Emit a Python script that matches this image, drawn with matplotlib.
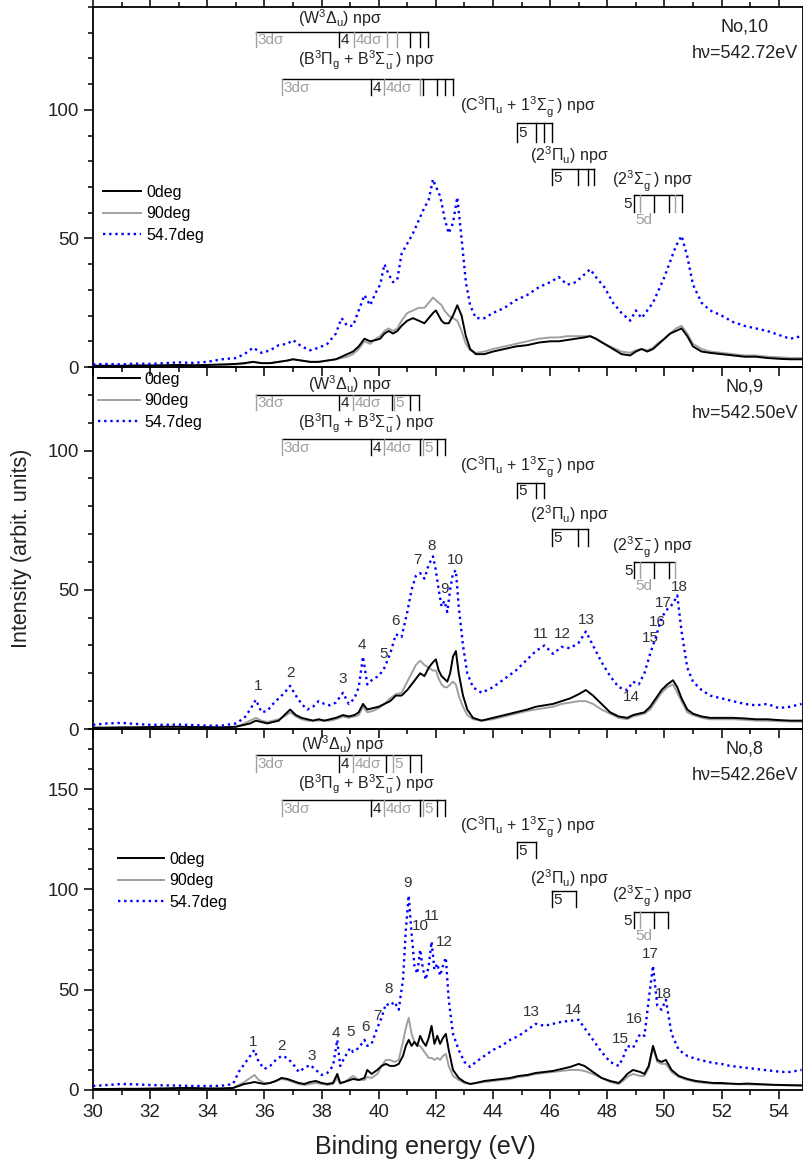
import matplotlib
matplotlib.use('Agg')
import matplotlib.pyplot as plt
import matplotlib.transforms as mtransforms
from matplotlib.ticker import MultipleLocator
from matplotlib.lines import Line2D

plt.rcParams['font.family'] = ['Liberation Sans', 'DejaVu Sans']
plt.rcParams['mathtext.fontset'] = 'custom'
plt.rcParams['mathtext.rm'] = 'Liberation Sans'
plt.rcParams['mathtext.it'] = 'Liberation Sans:italic'
plt.rcParams['mathtext.bf'] = 'Liberation Sans:bold'

# ---------------- data ----------------
series_labels = ['0deg', '90deg', '54.7deg']
panel_names = ['No,10', 'No,9', 'No,8']
photon_energies = ['h\u03bd=542.72eV', 'h\u03bd=542.50eV', 'h\u03bd=542.26eV']

# Panel No,10
E10 = [30.0, 30.5, 31.0, 31.5, 32.0, 32.5, 33.0, 33.5, 34.0, 34.5,
       35.0, 35.3, 35.6, 35.9, 36.2, 36.5, 36.8, 37.0, 37.3, 37.6,
       37.9, 38.2, 38.5, 38.7, 38.9, 39.1, 39.3, 39.5, 39.7, 39.9,
       40.05, 40.2, 40.35, 40.5, 40.65, 40.8, 41.0, 41.2, 41.4, 41.6,
       41.75, 41.9, 42.0, 42.1, 42.2, 42.3, 42.45, 42.6, 42.75, 42.9,
       43.05, 43.2, 43.4, 43.7, 44.0, 44.4, 44.8, 45.2, 45.6, 46.0,
       46.3, 46.6, 46.9, 47.2, 47.4, 47.6, 47.9, 48.2, 48.5, 48.8,
       49.0, 49.2, 49.4, 49.6, 49.8, 50.0, 50.2, 50.4, 50.6, 50.8,
       51.0, 51.3, 51.6, 52.0, 52.4, 52.8, 53.2, 53.6, 54.0, 54.4,
       54.8]
I10_0 = [0.5, 0.5, 0.5, 0.6, 0.6, 0.7, 0.8, 0.7, 0.8, 1.0,
         1.2, 1.5, 2.0, 1.5, 1.5, 2.0, 2.5, 3.0, 2.5, 2.0,
         2.0, 2.5, 3.0, 4.0, 5.0, 6.0, 8.0, 11.0, 10.0, 10.5,
         11.0, 13.0, 14.0, 13.0, 14.0, 16.0, 18.0, 19.0, 18.0, 17.0,
         19.0, 21.0, 22.0, 20.0, 18.0, 17.0, 17.0, 20.0, 24.0, 20.0,
         12.0, 7.0, 5.0, 5.0, 6.0, 7.0, 8.0, 8.5, 9.5, 10.0,
         10.0, 10.5, 11.0, 11.5, 12.0, 11.0, 9.0, 7.0, 5.0, 4.5,
         6.0, 7.0, 6.0, 7.0, 9.0, 11.0, 13.0, 14.0, 15.0, 12.0,
         8.0, 6.0, 5.5, 5.0, 4.5, 4.0, 4.0, 3.5, 3.2, 3.0,
         3.0]
I10_90 = [0.3, 0.3, 0.4, 0.4, 0.5, 0.5, 0.6, 0.6, 0.6, 0.7,
          1.0, 1.3, 2.0, 1.5, 1.5, 2.0, 2.5, 3.0, 2.5, 2.0,
          2.0, 2.5, 3.0, 3.5, 4.0, 5.0, 7.0, 10.0, 9.0, 11.0,
          12.0, 14.0, 15.0, 14.0, 15.0, 18.0, 21.0, 22.0, 23.0, 23.0,
          25.0, 27.0, 26.0, 25.0, 24.0, 22.0, 20.0, 19.0, 18.0, 14.0,
          9.0, 6.5, 5.5, 6.0, 7.0, 8.0, 9.0, 10.0, 11.0, 11.5,
          11.5, 12.0, 12.0, 12.0, 12.0, 11.0, 9.0, 7.5, 6.0, 5.5,
          6.5, 7.0, 6.5, 7.5, 9.5, 11.0, 13.0, 15.0, 16.0, 13.0,
          9.0, 7.0, 6.0, 5.5, 5.0, 4.5, 4.5, 4.0, 3.8, 3.5,
          3.5]
I10_547 = [1.0, 1.2, 1.0, 1.3, 1.2, 1.5, 1.8, 1.6, 2.0, 3.0,
           3.5, 5.0, 7.5, 5.5, 6.5, 8.5, 9.0, 10.5, 8.0, 6.5,
           7.5, 9.0, 13.0, 19.0, 16.0, 16.0, 22.0, 28.0, 24.0, 29.0,
           32.0, 40.0, 36.0, 33.0, 34.0, 44.0, 48.0, 52.0, 57.0, 62.0,
           65.0, 73.0, 70.0, 68.0, 64.0, 58.0, 52.0, 56.0, 66.0, 50.0,
           33.0, 24.0, 19.0, 19.0, 21.0, 23.0, 26.0, 28.0, 31.0, 33.0,
           35.0, 32.0, 33.0, 36.0, 38.0, 35.0, 31.0, 25.0, 21.0, 18.0,
           22.0, 19.0, 22.0, 25.0, 30.0, 35.0, 41.0, 47.0, 51.0, 43.0,
           32.0, 25.0, 22.0, 20.0, 17.5, 16.0, 15.0, 14.0, 12.5, 11.0,
           12.0]

# Panel No,9
E9 = [30.0, 30.5, 31.0, 31.5, 32.0, 32.5, 33.0, 33.5, 34.0, 34.5,
      35.0, 35.3, 35.5, 35.7, 35.9, 36.1, 36.3, 36.5, 36.7, 36.9,
      37.1, 37.3, 37.5, 37.7, 37.9, 38.1, 38.3, 38.5, 38.75, 38.95,
      39.15, 39.3, 39.45, 39.6, 39.8, 40.0, 40.2, 40.4, 40.6, 40.8,
      41.0, 41.15, 41.3, 41.45, 41.6, 41.75, 41.9, 42.0, 42.1, 42.2,
      42.3, 42.4, 42.5, 42.6, 42.7, 42.8, 42.95, 43.1, 43.3, 43.6,
      44.0, 44.4, 44.8, 45.2, 45.5, 45.8, 46.1, 46.4, 46.7, 47.0,
      47.25, 47.5, 47.8, 48.1, 48.4, 48.7, 48.9, 49.1, 49.3, 49.5,
      49.7, 49.9, 50.1, 50.3, 50.45, 50.6, 50.8, 51.0, 51.3, 51.6,
      52.0, 52.4, 52.8, 53.2, 53.6, 54.0, 54.4, 54.8]
I9_0 = [0.5, 0.5, 0.6, 0.6, 0.7, 0.8, 0.8, 0.7, 0.7, 0.6,
        0.8, 1.5, 2.0, 3.0, 2.5, 2.0, 2.5, 3.0, 5.0, 7.0,
        5.0, 4.0, 3.5, 3.0, 3.5, 3.0, 3.5, 4.0, 5.0, 4.5,
        5.0, 6.0, 9.0, 7.0, 7.5, 8.0, 9.0, 10.0, 12.0, 12.0,
        14.0, 16.0, 18.0, 20.0, 19.0, 22.0, 24.0, 25.0, 21.0, 19.0,
        18.0, 17.0, 20.0, 26.0, 28.0, 20.0, 12.0, 7.0, 4.0, 3.0,
        4.0, 5.0, 6.0, 7.0, 8.0, 8.5, 9.0, 10.0, 11.0, 12.5,
        14.0, 12.0, 9.0, 6.0, 4.5, 4.0, 5.0, 5.5, 6.0, 8.0,
        11.0, 14.0, 16.0, 17.5, 15.0, 11.0, 7.0, 5.5, 4.5, 4.0,
        4.0, 4.0, 3.8, 3.5, 3.5, 3.2, 3.0, 3.0]
I9_90 = [0.3, 0.3, 0.4, 0.5, 0.5, 0.6, 0.6, 0.6, 0.5, 0.5,
         0.8, 2.0, 3.0, 4.0, 3.0, 2.5, 3.0, 3.5, 4.5, 6.0,
         4.5, 3.5, 3.0, 3.0, 3.0, 3.0, 3.0, 3.5, 4.5, 4.0,
         4.5, 5.0, 8.0, 6.0, 6.5, 7.5, 9.0, 11.0, 12.5, 13.0,
         17.0, 20.0, 23.0, 24.5, 23.0, 22.0, 21.0, 21.0, 18.0, 16.0,
         15.0, 15.0, 16.0, 17.0, 16.0, 12.0, 8.0, 5.0, 3.5, 3.0,
         3.5, 4.5, 5.5, 6.5, 7.0, 7.5, 8.0, 9.0, 9.5, 10.0,
         10.0, 9.0, 7.0, 5.5, 4.0, 3.5, 4.5, 5.0, 5.5, 7.0,
         10.0, 13.0, 15.0, 16.0, 13.0, 10.0, 6.0, 5.0, 4.0, 3.5,
         3.5, 3.5, 3.3, 3.0, 3.0, 2.8, 2.7, 2.6]
I9_547 = [1.5, 2.0, 2.2, 1.8, 1.5, 1.5, 1.6, 1.4, 1.2, 1.2,
          2.0, 4.0, 7.0, 10.5, 6.0, 6.5, 9.0, 11.0, 13.0, 15.5,
          12.0, 9.0, 7.0, 8.0, 10.0, 9.0, 8.5, 9.5, 13.0, 9.0,
          11.0, 15.0, 26.0, 16.0, 18.0, 19.0, 22.0, 27.0, 34.0, 33.0,
          42.0, 50.0, 55.0, 56.0, 54.0, 59.0, 62.0, 57.0, 50.0, 44.0,
          46.0, 42.0, 50.0, 56.0, 57.0, 44.0, 30.0, 20.0, 15.0, 13.0,
          15.0, 18.0, 21.0, 25.0, 28.0, 30.0, 27.0, 29.5, 29.0, 31.0,
          35.0, 30.0, 24.0, 19.0, 15.0, 14.0, 17.0, 16.0, 20.0, 27.0,
          33.0, 40.0, 43.0, 45.0, 48.0, 35.0, 22.0, 17.0, 14.0, 12.0,
          11.0, 10.0, 9.0, 8.5, 9.0, 7.5, 8.0, 9.0]

# Panel No,8
E8 = [30.0, 30.5, 31.0, 31.5, 32.0, 32.5, 33.0, 33.5, 34.0, 34.5,
      34.9, 35.1, 35.3, 35.5, 35.65, 35.8, 36.0, 36.2, 36.4, 36.6,
      36.8, 37.0, 37.2, 37.4, 37.6, 37.8, 38.0, 38.2, 38.4, 38.55,
      38.65, 38.8, 39.0, 39.1, 39.3, 39.5, 39.6, 39.75, 39.95, 40.1,
      40.25, 40.4, 40.55, 40.7, 40.85, 40.95, 41.05, 41.15, 41.25, 41.35,
      41.45, 41.55, 41.65, 41.75, 41.85, 41.95, 42.05, 42.15, 42.25, 42.35,
      42.45, 42.6, 42.8, 43.0, 43.2, 43.4, 43.7, 44.0, 44.3, 44.6,
      44.9, 45.2, 45.5, 45.8, 46.1, 46.4, 46.7, 47.0, 47.2, 47.5,
      47.8, 48.1, 48.4, 48.55, 48.7, 48.9, 49.15, 49.3, 49.45, 49.6,
      49.75, 49.9, 50.05, 50.25, 50.5, 50.8, 51.1, 51.4, 51.7, 52.0,
      52.3, 52.6, 52.9, 53.2, 53.5, 53.8, 54.1, 54.4, 54.8]
I8_0 = [0.5, 0.5, 0.6, 0.6, 0.7, 0.8, 1.0, 1.0, 0.8, 0.8,
        1.0, 2.0, 3.0, 3.5, 4.0, 3.5, 3.0, 3.5, 4.5, 6.0,
        5.5, 4.5, 3.5, 3.0, 4.0, 4.5, 3.5, 3.0, 3.5, 8.0,
        3.5, 4.0, 5.0, 5.5, 5.0, 6.0, 10.0, 8.0, 10.0, 12.0,
        13.0, 12.0, 12.0, 13.0, 17.0, 22.0, 25.0, 22.0, 24.0, 22.0,
        27.0, 24.0, 22.0, 26.0, 32.0, 23.0, 27.0, 23.0, 26.0, 28.0,
        20.0, 10.0, 6.0, 4.0, 3.0, 3.5, 4.5, 5.0, 5.5, 6.0,
        7.0, 7.5, 8.5, 9.0, 9.5, 10.5, 11.5, 13.0, 12.0, 9.0,
        6.0, 4.5, 3.5, 5.5, 8.0, 10.0, 9.0, 8.0, 12.0, 22.0,
        15.0, 14.0, 15.0, 10.0, 7.0, 5.5, 4.5, 4.0, 3.5, 3.5,
        3.2, 3.0, 3.2, 3.0, 2.8, 2.6, 2.5, 2.4, 2.3]
I8_90 = [0.3, 0.3, 0.4, 0.5, 0.6, 0.6, 0.7, 0.7, 0.6, 0.6,
         1.0, 2.5, 4.0, 6.0, 7.5, 5.0, 3.5, 3.5, 4.5, 5.5,
         5.0, 4.0, 3.0, 2.5, 3.0, 3.5, 3.0, 2.5, 3.0, 6.0,
         3.0, 4.0, 6.0, 7.0, 5.0, 5.0, 6.5, 6.0, 8.0, 12.0,
         15.0, 15.0, 14.0, 15.0, 24.0, 31.0, 36.0, 28.0, 24.0, 22.0,
         22.0, 20.0, 18.0, 16.0, 16.0, 15.0, 16.0, 15.0, 17.0, 18.0,
         12.0, 7.0, 5.0, 3.5, 3.0, 3.5, 4.0, 4.5, 5.0, 5.5,
         6.5, 7.0, 8.0, 8.5, 9.0, 9.5, 10.0, 10.0, 9.5, 8.0,
         6.0, 4.0, 3.0, 4.5, 6.5, 8.0, 7.0, 7.0, 11.0, 21.0,
         14.0, 13.0, 13.0, 9.0, 6.5, 5.0, 4.0, 3.5, 3.2, 3.0,
         3.0, 2.8, 2.8, 2.7, 2.6, 2.5, 2.4, 2.3, 2.2]
I8_547 = [2.0, 2.5, 3.0, 2.8, 2.5, 2.3, 2.2, 2.0, 2.0, 2.1,
          3.0, 9.0, 13.0, 17.0, 20.0, 14.0, 10.5, 12.0, 15.0, 17.0,
          16.0, 13.0, 9.0, 11.0, 12.5, 10.0, 7.5, 8.5, 12.0, 25.0,
          12.0, 16.0, 21.0, 19.0, 21.0, 25.0, 22.0, 23.0, 31.0, 36.0,
          43.0, 42.0, 44.0, 40.0, 55.0, 80.0, 97.0, 78.0, 62.0, 58.0,
          70.0, 60.0, 55.0, 62.0, 74.0, 60.0, 63.0, 57.0, 62.0, 66.0,
          45.0, 28.0, 20.0, 14.0, 11.5, 14.0, 17.0, 20.0, 22.0, 25.0,
          27.0, 30.0, 33.0, 32.0, 33.0, 34.0, 34.5, 35.0, 31.0, 25.0,
          19.0, 14.0, 12.0, 16.0, 22.0, 21.0, 28.0, 27.0, 45.0, 62.0,
          42.0, 40.0, 45.0, 28.0, 20.0, 17.0, 15.5, 14.5, 13.5, 13.0,
          12.0, 11.5, 11.0, 10.5, 10.0, 9.5, 9.0, 9.0, 10.0]

# peak-number labels (x in eV, y in intensity)
peak_ids9 = ['1', '2', '3', '4', '5', '6', '7', '8', '9', '10', '11', '12', '13', '14', '15', '16', '17', '18']
peak_x9 = [35.77, 36.92, 38.74, 39.41, 40.17, 40.59, 41.36, 41.85, 42.31, 42.69,
           45.66, 46.43, 47.27, 48.85, 49.51, 49.76, 49.97, 50.52]
peak_y9 = [15.4, 20.1, 18.0, 30.2, 26.9, 38.8, 60.7, 65.7, 50.3, 60.7,
           34.1, 34.1, 39.1, 11.5, 32.7, 38.4, 45.2, 51.0]
peak_ids8 = ['1', '2', '3', '4', '5', '6', '7', '8', '9', '10', '11', '12', '13', '14', '15', '16', '17', '18']
peak_x8 = [35.6, 36.6, 37.65, 38.5, 39.0, 39.55, 39.95, 40.35, 41.0, 41.45,
           41.85, 42.3, 45.35, 46.8, 48.45, 48.95, 49.5, 49.95]
peak_y8 = [24.0, 22.0, 17.0, 28.5, 29.0, 31.5, 37.0, 50.5, 103.0, 82.0,
           87.0, 74.0, 39.0, 40.0, 25.5, 35.5, 68.0, 48.0]

# ---------------- layout ----------------
W, H = 804, 1164
fig = plt.figure(figsize=(W / 100, H / 100), dpi=100)
L, R = 93, 803
panels_px = [(7, 367), (367, 729), (729, 1090)]
ylims = [140, 130, 180]

BLACK = '#000000'
GRAY = '#a0a0a0'
BLUE = '#0000ff'
TXT = '#222222'

data = [(E10, I10_0, I10_90, I10_547), (E9, I9_0, I9_90, I9_547), (E8, I8_0, I8_90, I8_547)]

axes = []
for i, (top, bot) in enumerate(panels_px):
    ax = fig.add_axes([L / W, 1 - bot / H, (R - L) / W, (bot - top) / H])
    ax.patch.set_visible(False)
    E, i0, i90, i547 = data[i]
    ax.plot(E, i90, color=GRAY, lw=1.4, zorder=2)
    ax.plot(E, i0, color=BLACK, lw=1.4, zorder=3)
    ax.plot(E, i547, color=BLUE, lw=1.7, ls=(0, (1.0, 1.6)), zorder=4)
    ax.set_xlim(30, 54.85)
    ax.set_ylim(0, ylims[i])
    ax.xaxis.set_major_locator(MultipleLocator(2))
    ax.xaxis.set_minor_locator(MultipleLocator(1))
    ax.yaxis.set_major_locator(MultipleLocator(50))
    ax.yaxis.set_minor_locator(MultipleLocator(10))
    ax.tick_params(which='major', direction='out', length=6.5, width=1.1,
                   labelsize=13.5, labelcolor=TXT)
    ax.tick_params(which='minor', direction='out', length=3.5, width=1.1)
    if i < 2:
        ax.tick_params(axis='x', which='both', labelbottom=False)
    if i == 0:
        ax.tick_params(axis='x', which='both', top=True)
    for sp in ax.spines.values():
        sp.set_linewidth(1.3)
    axes.append(ax)


def fy(i, py):
    top, bot = panels_px[i]
    return (bot - py) / (bot - top)


def fx(px):
    return (px - L) / (R - L)


# legends
leg_pos = [(103, 185), (98, 372), (118, 852)]
leg_hl = [2.4, 2.6, 2.9]
for i, ax in enumerate(axes):
    handles = [Line2D([], [], color=BLACK, lw=1.4),
               Line2D([], [], color=GRAY, lw=1.4),
               Line2D([], [], color=BLUE, lw=1.7, ls=(0, (1.0, 1.6)))]
    px, py = leg_pos[i]
    ax.legend(handles, series_labels, loc='upper left',
              bbox_to_anchor=(fx(px), fy(i, py)), frameon=False,
              fontsize=11.5, handlelength=leg_hl[i], handletextpad=0.3,
              labelspacing=0.4, borderpad=0, borderaxespad=0)
    ax.text(fx(745), fy(i, panels_px[i][0] + 20), panel_names[i], transform=ax.transAxes,
            ha='center', va='center', fontsize=13, color=TXT)
    ax.text(fx(745), fy(i, panels_px[i][0] + 46), photon_energies[i], transform=ax.transAxes,
            ha='center', va='center', fontsize=13, color=TXT)

# peak labels
for ids, xs, ys, ax in [(peak_ids9, peak_x9, peak_y9, axes[1]), (peak_ids8, peak_x8, peak_y8, axes[2])]:
    for t, x, y in zip(ids, xs, ys):
        ax.text(x, y, t, ha='center', va='center', fontsize=11, color='#333333')

# level ladders
SIG = '\u03c3'
T_W = r'(W$\mathrm{^3\Delta_u}$) np' + SIG
T_B = r'(B$\mathrm{^3\Pi_g}$ + B$\mathrm{^3\Sigma_u^-}$) np' + SIG
T_C = r'(C$\mathrm{^3\Pi_u}$ + 1$\mathrm{^3\Sigma_g^-}$) np' + SIG
T_P = r'(2$\mathrm{^3\Pi_u}$) np' + SIG
T_S = r'(2$\mathrm{^3\Sigma_g^-}$) np' + SIG

S3 = '3d' + SIG
S4 = '4d' + SIG

ladders = [
    # panel, title, title_x(eV), title_py, line_py, bottom_py, ticks, colours, labels
    (0, T_W, 38.64, 18, 32, 47, [35.70, 38.60, 39.13, 40.28, 40.63, 41.08, 41.43, 41.71], 'gkgggkkk',
     [(0, S3, 'g', 'r'), (1, '4', 'k', 'r'), (2, S4, 'g', 'r')]),
    (0, T_B, 39.58, 60, 79, 95, [36.61, 39.72, 40.17, 41.43, 41.54, 42.03, 42.31, 42.59], 'gkggkkkk',
     [(0, S3, 'g', 'r'), (1, '4', 'k', 'r'), (2, S4, 'g', 'r')]),
    (0, T_C, 45.21, 107, 123, 142, [44.83, 45.52, 45.80, 46.08], 'kkkk', [(0, '5', 'k', 'r')]),
    (0, T_P, 46.68, 155, 169, 185, [46.05, 46.96, 47.31, 47.52], 'kkkk', [(0, '5', 'k', 'r')]),
    (0, T_S, 49.58, 181, 195, 212, [48.92, 49.13, 49.65, 50.17, 50.38, 50.63], 'kgkkgk',
     [(0, '5', 'k', 'l'), (1, '5d', 'g', 'b')]),

    (1, T_W, 38.99, 384, 395, 410, [35.70, 38.60, 39.09, 40.45, 40.52, 41.08, 41.40], 'gkgkgkk',
     [(0, S3, 'g', 'r'), (1, '4', 'k', 'r'), (2, S4, 'g', 'r'), (4, '5', 'g', 'r')]),
    (1, T_B, 39.58, 423, 439, 455, [36.61, 39.72, 40.17, 41.43, 41.54, 42.03, 42.31], 'gkgkgkk',
     [(0, S3, 'g', 'r'), (1, '4', 'k', 'r'), (2, S4, 'g', 'r'), (4, '5', 'g', 'r')]),
    (1, T_C, 45.21, 467, 483, 498, [44.83, 45.52, 45.80], 'kkk', [(0, '5', 'k', 'r')]),
    (1, T_P, 46.68, 514, 529, 546, [46.05, 46.96, 47.31], 'kkk', [(0, '5', 'k', 'r')]),
    (1, T_S, 49.58, 547, 562, 578, [48.95, 49.13, 49.65, 50.17, 50.38], 'kgkkg',
     [(0, '5', 'k', 'l'), (1, '5d', 'g', 'b')]),

    (2, T_W, 38.74, 744, 755, 772, [35.70, 38.60, 39.09, 40.24, 40.49, 41.08, 41.47], 'gkgkgkk',
     [(0, S3, 'g', 'r'), (1, '4', 'k', 'r'), (2, S4, 'g', 'r'), (4, '5', 'g', 'r')]),
    (2, T_B, 39.58, 784, 800, 816, [36.61, 39.72, 40.17, 41.43, 41.54, 42.03, 42.31], 'gkgkgkk',
     [(0, S3, 'g', 'r'), (1, '4', 'k', 'r'), (2, S4, 'g', 'r'), (4, '5', 'g', 'r')]),
    (2, T_C, 45.21, 827, 842, 858, [44.83, 45.52], 'kk', [(0, '5', 'k', 'r')]),
    (2, T_P, 46.68, 878, 891, 907, [46.05, 46.92], 'kk', [(0, '5', 'k', 'r')]),
    (2, T_S, 49.58, 896, 912, 928, [48.92, 49.13, 49.65, 50.14], 'kgkk',
     [(0, '5', 'k', 'l'), (1, '5d', 'g', 'b')]),
]

cmap = {'k': BLACK, 'g': GRAY}
for (pi, title, tx, tpy, lpy, bpy, ticks, cols, labels) in ladders:
    ax = axes[pi]
    tr = mtransforms.blended_transform_factory(ax.transData, ax.transAxes)
    yl, yb = fy(pi, lpy), fy(pi, bpy)
    ax.plot([ticks[0], ticks[-1]], [yl, yl], color=BLACK, lw=1.0, transform=tr, zorder=5)
    for x, c in zip(ticks, cols):
        ax.plot([x, x], [yl, yb], color=cmap[c], lw=1.0, transform=tr, zorder=5)
    ax.text(tx, fy(pi, tpy), title, transform=tr, ha='center', va='center', fontsize=11.5, color=TXT)
    ym = (yl + yb) / 2
    for idx, txt, c, side in labels:
        x = ticks[idx]
        if side == 'r':
            ax.annotate(txt, xy=(x, ym), xycoords=tr, xytext=(1.5, -0.5), textcoords='offset points',
                        ha='left', va='center', fontsize=11, color=cmap[c] if c == 'g' else TXT)
        elif side == 'l':
            ax.annotate(txt, xy=(x, ym), xycoords=tr, xytext=(-1.5, -0.5), textcoords='offset points',
                        ha='right', va='center', fontsize=11, color=TXT)
        else:
            ax.annotate(txt, xy=(x, yb), xycoords=tr, xytext=(3, -1), textcoords='offset points',
                        ha='center', va='top', fontsize=11, color=cmap[c])

fig.text(22 / W, 1 - 548 / H, 'Intensity (arbit. units)', rotation=90, ha='center', va='center',
         fontsize=15.5, color=TXT)
fig.text(425 / W, 1 - 1147 / H, 'Binding energy (eV)', ha='center', va='center', fontsize=18, color=TXT)

fig.savefig('out.png', dpi=100)
